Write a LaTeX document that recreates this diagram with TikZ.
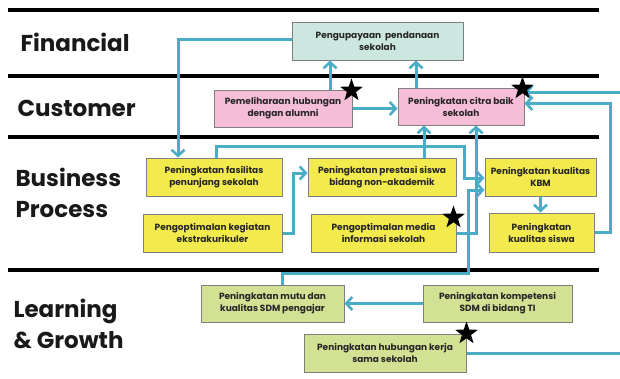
\documentclass[tikz,border=0pt]{standalone}
\usepackage{fontspec}
\setmainfont{Poppins}
\usepackage{tikz}
\usetikzlibrary{positioning,arrows.meta,shapes.geometric,calc}

\definecolor{aqua}{HTML}{4BACC6}
\definecolor{fincol}{HTML}{CCE7DF}
\definecolor{cuscol}{HTML}{F6BDD7}
\definecolor{bizcol}{HTML}{F3EA4E}
\definecolor{lgcol}{HTML}{D3E194}
\definecolor{edgecol}{HTML}{7F7F7F}

\begin{document}
\begin{tikzpicture}[
    x=1pt, y=-1pt,
    every node/.style={font=\fontsize{9}{12}\selectfont\bfseries, text=black!85},
    box/.style={draw=edgecol, line width=1pt, align=center, inner sep=1pt, minimum height=38pt},
    finbox/.style={box, fill=fincol},
    cusbox/.style={box, fill=cuscol},
    bizbox/.style={box, fill=bizcol},
    lgbox/.style={box, fill=lgcol},
    persp/.style={font=\fontsize{23}{31}\selectfont\bfseries, anchor=west, align=left, text=black!90},
    rule/.style={line width=3.2pt, black},
    flow/.style={aqua, line width=3pt, -{Straight Barb[length=6pt,width=13pt,line width=2.6pt]}},
    prio/.style={star, star points=5, star point ratio=2.5, fill=black, minimum size=24pt, inner sep=0pt},
]
\useasboundingbox (0,0) rectangle (620,378);

% perspective rules and names
\foreach \yy in {10,76,137,270}
  \draw[rule] (8,\yy) -- (599,\yy);
\node[persp] (financial) at (17,42)  {Financial};
\node[persp] (customer)  at (14,108) {Customer};
\node[persp] (business)  at (12,193) {Business\\Process};
\node[persp] (learning)  at (10,324) {Learning\\\& Growth};

% financial
\node[finbox, minimum width=171pt] (fund) at (377.5,41) {Pengupayaan \ pendanaan\\sekolah};

% customer
\node[cusbox, minimum width=138pt, minimum height=37pt] (alumni) at (283,108.5) {Pemeliharaan hubungan\\dengan alumni};
\node[cusbox, minimum width=126pt, minimum height=37pt] (citra)  at (461,106.5) {Peningkatan citra baik\\sekolah};

% business process
\node[bizbox, minimum width=136pt] (fasil)    at (214,177)   {Peningkatan fasilitas\\penunjang sekolah};
\node[bizbox, minimum width=148pt] (prestasi) at (382,177)   {Peningkatan prestasi siswa\\bidang non-akademik};
\node[bizbox, minimum width=111pt] (kbm)      at (540.5,177) {Peningkatan kualitas\\KBM};
\node[bizbox, minimum width=139pt] (ekstra)   at (212.5,233) {Pengoptimalan kegiatan\\ekstrakurikuler};
\node[bizbox, minimum width=145pt] (media)    at (383.5,233) {Pengoptimalan media\\informasi sekolah};
\node[bizbox, minimum width=105pt, minimum height=39pt] (siswa) at (541.5,232.5) {Peningkatan\\kualitas siswa};

% learning & growth
\node[lgbox, minimum width=143pt, minimum height=37pt] (mutu)    at (272.5,303.5) {Peningkatan mutu dan\\kualitas SDM pengajar};
\node[lgbox, minimum width=149pt, minimum height=37pt] (kompet)  at (497.5,303.5) {Peningkatan kompetensi\\SDM di bidang TI};
\node[lgbox, minimum width=162pt] (kerja) at (385,353) {Peningkatan hubungan kerja\\sama sekolah};

% links
\draw[flow] ([yshift=2pt]fund.west) -| ([xshift=-36pt]fasil.north);
\draw[flow] ([xshift=47pt]alumni.north) -- ([xshift=47pt]alumni.north |- fund.south);
\draw[flow] ([xshift=-45pt]citra.north) -- ([xshift=-45pt]citra.north |- fund.south);
\draw[flow] (alumni.east) -- (alumni.east -| citra.west);
\draw[flow] ([xshift=2pt]fasil.north) -- ++(0,-11) -| ([xshift=-20pt,yshift=-1pt]kbm.west) -- ([yshift=-1pt]kbm.west);
\draw[flow] ([xshift=42pt]prestasi.north) -- ([xshift=-37pt]citra.south);
\draw[flow] (ekstra.east) -- ++(11,0) |- ([yshift=4pt]prestasi.west);
\draw[flow] (media.east) -| ([xshift=15pt]citra.south);
\draw[flow] ([xshift=9.5pt]mutu.north) -- ++(0,-11) -| ([xshift=-16pt,yshift=-13pt]kbm.west) -- ([yshift=-13pt]kbm.west);
\draw[flow] (kbm.south) -- (kbm.south |- siswa.north);
\draw[flow] (siswa.east) -- ++(16,0) |- ([yshift=3pt]citra.east);
\draw[flow] (kerja.east) -- ++(170,0) |- ([yshift=14pt]citra.east);
\draw[flow] (kompet.west) -- (mutu.east);

% priority marks
\node[prio] (starAlumni) at ([xshift=-1pt,yshift=-1pt]alumni.north east) {};
\node[prio] (starCitra)  at ([xshift=-2pt,yshift=-1pt]citra.north east) {};
\node[prio] (starMedia)  at ([xshift=-3pt,yshift=-4pt]media.north east) {};
\node[prio] (starKerja)  at (kerja.north east) {};
\end{tikzpicture}
\end{document}
